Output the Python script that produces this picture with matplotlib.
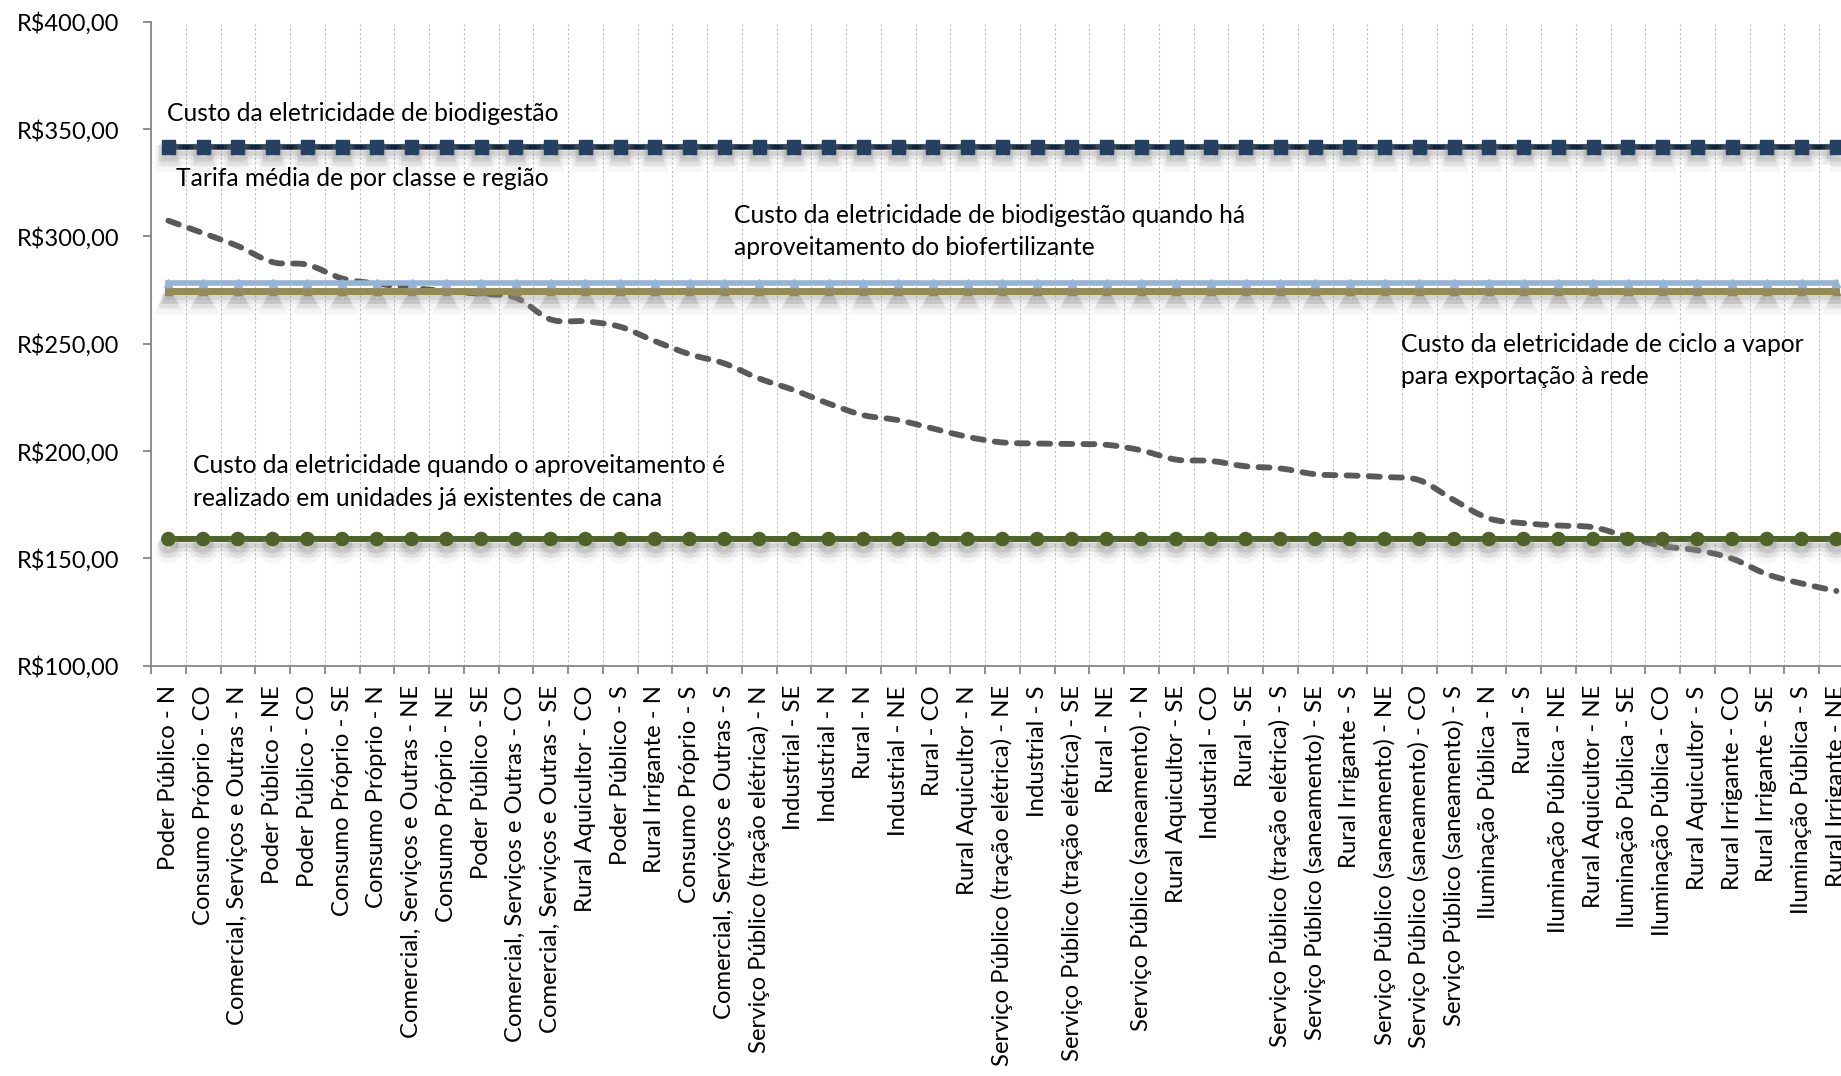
import numpy as np
import matplotlib
matplotlib.use("Agg")
import matplotlib.pyplot as plt
from matplotlib import patheffects
from matplotlib.path import Path
from matplotlib.patches import PathPatch

plt.rcParams['font.family'] = ['Lato', 'DejaVu Sans']

# categories (classe - região), ordered by average tariff
categorias = [
    "Poder Público - N", "Consumo Próprio - CO", "Comercial, Serviços e Outras - N",
    "Poder Público - NE", "Poder Público - CO", "Consumo Próprio - SE",
    "Consumo Próprio - N", "Comercial, Serviços e Outras - NE", "Consumo Próprio - NE",
    "Poder Público - SE", "Comercial, Serviços e Outras - CO", "Comercial, Serviços e Outras - SE",
    "Rural Aquicultor - CO", "Poder Público - S", "Rural Irrigante - N",
    "Consumo Próprio - S", "Comercial, Serviços e Outras - S", "Serviço Público (tração elétrica) - N",
    "Industrial - SE", "Industrial - N", "Rural - N", "Industrial - NE", "Rural - CO",
    "Rural Aquicultor - N", "Serviço Público (tração elétrica) - NE", "Industrial - S",
    "Serviço Público (tração elétrica) - SE", "Rural - NE", "Serviço Público (saneamento) - N",
    "Rural Aquicultor - SE", "Industrial - CO", "Rural - SE",
    "Serviço Público (tração elétrica) - S", "Serviço Público (saneamento) - SE", "Rural Irrigante - S",
    "Serviço Público (saneamento) - NE", "Serviço Público (saneamento) - CO",
    "Serviço Público (saneamento) - S", "Iluminação Pública - N", "Rural - S",
    "Iluminação Pública - NE", "Rural Aquicultor - NE", "Iluminação Pública - SE",
    "Iluminação Pública - CO", "Rural Aquicultor - S", "Rural Irrigante - CO",
    "Rural Irrigante - SE", "Iluminação Pública - S", "Rural Irrigante - NE",
]

# tarifa média (R$/MWh)
tarifa = [
    307.3, 301.5, 295.5, 288.0, 286.8, 280.4, 278.0, 276.0, 274.5, 273.2,
    271.4, 261.3, 260.4, 257.9, 251.2, 245.1, 240.8, 233.8, 228.4, 222.1,
    216.7, 214.4, 210.5, 206.6, 204.0, 203.5, 203.3, 202.9, 200.3, 196.0,
    195.4, 192.9, 191.9, 189.2, 188.6, 187.9, 186.4, 177.1, 168.6, 166.4,
    165.3, 164.5, 160.0, 155.7, 153.8, 149.9, 142.6, 138.3, 134.8,
]

custo_biodigestao = 341.6
custo_biofertilizante = 278.1
custo_ciclo_vapor = 274.6
custo_cana = 159.0

n = len(categorias)
x = np.arange(n)

fig = plt.figure(figsize=(18.41, 10.76), dpi=100)
ax = fig.add_axes([151 / 1841, 1 - 665.7 / 1076, 1702.75 / 1841, 644.0 / 1076])


def sombra(lw):
    # soft grey shadow under the series line and its markers
    return [
        patheffects.SimpleLineShadow(offset=(0, -8), shadow_color='#a8a8a8', alpha=0.10, linewidth=lw + 6),
        patheffects.SimpleLineShadow(offset=(0, -6), shadow_color='#909090', alpha=0.14, linewidth=lw + 2),
        patheffects.SimpleLineShadow(offset=(0, -4), shadow_color='#7a7a7a', alpha=0.16, linewidth=lw),
        patheffects.Normal(),
    ]


ax.plot(x, [custo_cana] * n, color='#4F6228', lw=4.3, marker='o', ms=9.5,
        mfc='#4F6228', mec='#4F6228', zorder=3, path_effects=sombra(4.3))
ax.plot(x, [custo_ciclo_vapor] * n, color='#948A54', lw=5.0, marker='^', ms=5.5,
        mfc='#948A54', mec='#948A54', zorder=3, path_effects=sombra(5.0))
ax.plot(x, [custo_biofertilizante] * n, color='#95B3D7', lw=4.0, marker='^', ms=6,
        mfc='#95B3D7', mec='#95B3D7', zorder=3.1)
ax.plot(x, [custo_biodigestao] * n, color='#10253F', lw=4.0, marker='s', ms=9.5,
        mfc='#254061', mec='#254061', zorder=3, path_effects=sombra(4.0))

# smoothed tariff curve (Catmull-Rom through the points, as cubic Béziers)
pts = np.column_stack([x, tarifa]).astype(float)
ext = np.vstack([pts[0], pts, pts[-1]])
verts = [tuple(pts[0])]
codes = [Path.MOVETO]
for i in range(n - 1):
    p0, p1, p2, p3 = ext[i], ext[i + 1], ext[i + 2], ext[i + 3]
    c1 = p1 + (p2 - p0) / 6
    c2 = p2 - (p3 - p1) / 6
    verts += [tuple(c1), tuple(c2), tuple(p2)]
    codes += [Path.CURVE4] * 3
curva = PathPatch(Path(verts, codes), fill=False, edgecolor='#595959', lw=4.2,
                  linestyle=(0, (1.9, 1.9)), capstyle='round', zorder=2.5)
ax.add_patch(curva)

ax.set_xlim(-0.5, n - 0.5)
ax.set_ylim(100, 400)
ax.set_yticks([100, 150, 200, 250, 300, 350, 400])
ax.set_yticklabels([f"R${v:.2f}".replace('.', ',') for v in [100, 150, 200, 250, 300, 350, 400]])

ax.set_xticks(x)
ax.set_xticklabels(categorias, rotation=90, ha='center', va='top')
ax.set_xticks(np.arange(-0.5, n, 1), minor=True)
ax.tick_params(axis='x', which='major', length=0, pad=14, labelsize=17.2)
ax.tick_params(axis='x', which='minor', length=6, width=1.3, color='#868686')
ax.tick_params(axis='y', length=6, width=1.3, color='#868686', pad=17, labelsize=17)
ax.grid(axis='x', which='minor', color='#BFBFBF', lw=0.8, linestyle=(0, (2, 2)))
ax.set_axisbelow(True)

for s in ['top', 'right']:
    ax.spines[s].set_visible(False)
for s in ['left', 'bottom']:
    ax.spines[s].set_color('#868686')
    ax.spines[s].set_linewidth(1.3)

# series labels
rotulos = [
    (-0.04, [357.4], ["Custo da eletricidade de biodigestão"]),
    (0.22, [326.9], ["Tarifa média de por classe e região"]),
    (16.28, [309.5, 294.6], ["Custo da eletricidade de biodigestão quando há",
                             "aproveitamento do biofertilizante"]),
    (35.47, [249.8, 234.9], ["Custo da eletricidade de ciclo a vapor",
                             "para exportação à rede"]),
    (0.71, [193.4, 178.0], ["Custo da eletricidade quando o aproveitamento é",
                            "realizado em unidades já existentes de cana"]),
]
for xr, ys, linhas in rotulos:
    for yr, t in zip(ys, linhas):
        ax.text(xr, yr, t, fontsize=17.7, ha='left', va='center', color='black', zorder=5)

fig.savefig('out.png', dpi=100)
